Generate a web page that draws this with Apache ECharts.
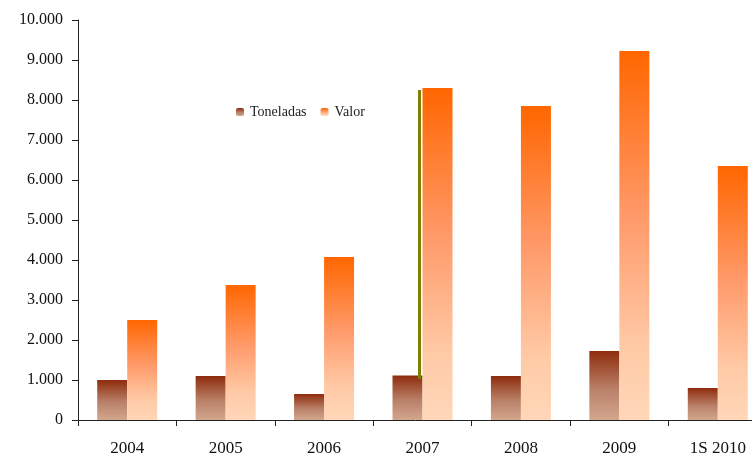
<!DOCTYPE html>
<html>
<head>
<meta charset="utf-8">
<script src="https://cdn.jsdelivr.net/npm/echarts@6/dist/echarts.min.js"></script>
<style>
  html, body { margin: 0; padding: 0; background: #fff; }
  #main { width: 752px; height: 454px; }
</style>
</head>
<body>
<div id="main"></div>
<script type="text/javascript">
// datos del gráfico
var categorias = ['2004', '2005', '2006', '2007', '2008', '2009', '1S 2010'];
var toneladas = [1000, 1100, 650, 1110, 1100, 1725, 800];
var valor = [2500, 3375, 4075, 8300, 7850, 9225, 6350];
// linea verde en 2007: [categoria, desde, hasta]
var lineaVerde = [[3, 1025, 8250]];

var myChart = echarts.init(document.getElementById('main'));

var fuente = '"Liberation Serif", "DejaVu Serif", serif';

var option = {
    animation: false,
    grid: { left: 78, top: 20, bottom: 34, width: 689, outerBoundsMode: 'none', containLabel: false },
    legend: {
        data: ['Toneladas', 'Valor'],
        left: 231,
        top: 100,
        itemWidth: 8,
        itemHeight: 8,
        itemGap: 14,
        textStyle: { fontFamily: fuente, fontSize: 14, color: '#222', padding: [0, 0, 0, 1] }
    },
    xAxis: {
        type: 'category',
        data: categorias,
        axisLine: { lineStyle: { color: '#222', width: 1 } },
        axisTick: { show: true, length: 6, lineStyle: { color: '#222' } },
        axisLabel: { fontFamily: fuente, fontSize: 17, color: '#111', margin: 20 }
    },
    yAxis: {
        type: 'value',
        min: 0,
        max: 10000,
        interval: 1000,
        splitLine: { show: false },
        axisLine: { show: true, lineStyle: { color: '#222', width: 1 } },
        axisTick: { show: true, length: 6, lineStyle: { color: '#222' } },
        axisLabel: {
            fontFamily: fuente, fontSize: 16, color: '#111', margin: 15,
            formatter: function (v) {
                return String(v).replace(/\B(?=(\d{3})+(?!\d))/g, '.');
            }
        }
    },
    series: [{
        name: 'Toneladas',
        type: 'bar',
        barWidth: 30,
        barGap: '0%',
        data: toneladas,
        itemStyle: {
            color: new echarts.graphic.LinearGradient(0, 0, 0, 1, [
                { offset: 0, color: '#8e2c0c' },
                { offset: 0.55, color: '#b98068' },
                { offset: 1, color: '#d3a68e' }
            ])
        }
    }, {
        name: 'Valor',
        type: 'bar',
        barWidth: 30,
        barGap: '0%',
        data: valor,
        itemStyle: {
            color: new echarts.graphic.LinearGradient(0, 0, 0, 1, [
                { offset: 0, color: '#ff6600' },
                { offset: 0.45, color: '#ff9a6a' },
                { offset: 0.8, color: '#ffcaa6' },
                { offset: 1, color: '#ffd7b8' }
            ])
        }
    }, {
        type: 'custom',
        silent: true,
        data: lineaVerde,
        renderItem: function (params, api) {
            var p1 = api.coord([api.value(0), api.value(1)]);
            var p2 = api.coord([api.value(0), api.value(2)]);
            return {
                type: 'line',
                shape: { x1: p1[0] - 3, y1: p1[1], x2: p2[0] - 3, y2: p2[1] },
                style: { stroke: '#808000', lineWidth: 3 }
            };
        },
        z: 5
    }]
};

myChart.setOption(option);
</script>
</body>
</html>
